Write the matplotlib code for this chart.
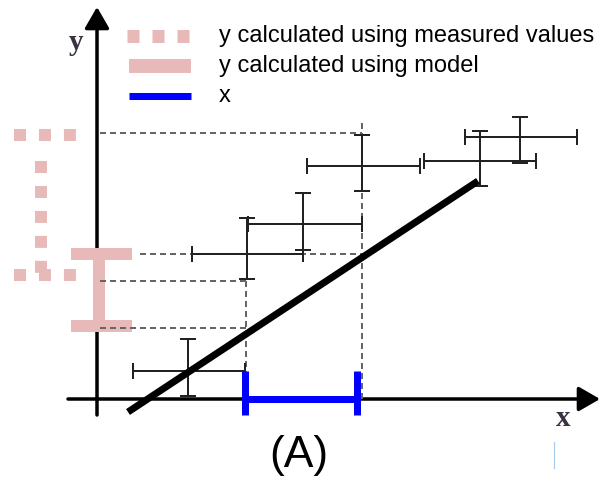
import matplotlib
matplotlib.use("Agg")
from matplotlib import pyplot as plt

# the sketch is drawn in picture units: x to the right, y downwards (0..600, 0..484)
PT = 0.72  # points per pixel at dpi 100

# measured points with their error ranges
pt_x = [188, 247, 303, 362, 480, 520]
pt_y = [371, 254, 224, 166, 161, 137]
x_lo = [133, 192, 248, 307, 424, 465]
x_hi = [245, 303, 362, 420, 536, 577]
y_lo = [339, 218, 193, 135, 131, 117]
y_hi = [396, 279, 250, 191, 186, 163]

# model line
model_x = [128, 478]
model_y = [412, 181]

# projection guides (x0, x1, y0, y1)
guides = [
    (100, 362, 133, 133),
    (140, 362, 254, 254),
    (100, 246, 281, 281),
    (100, 246, 328, 328),
    (246, 246, 281, 399),
    (362, 362, 123, 399),
]

# y ranges on the left
meas_x, meas_top, meas_bot = 41, 135, 275
meas_cap = [14, 76]
model_bar_x, model_top, model_bot = 99, 254, 326
model_cap = [71, 132]

# x interval on the axis
x_int = [245, 357]
x_int_y = 399
x_int_tick = [371, 415]

legend_labels = ["y calculated using measured values",
                 "y calculated using model",
                 "x"]
legend_y = [36, 66, 96]

pink = "#e8b9b9"
gray = "#666666"

fig = plt.figure(figsize=(6, 4.84), dpi=100)
ax = fig.add_axes([0, 0, 1, 1])
ax.set_xlim(0, 600)
ax.set_ylim(484, 0)
ax.axis("off")

# axes with arrows
arrow = dict(arrowstyle="-|>,head_length=1.3,head_width=0.75",
             mutation_scale=10, lw=3.5 * PT, color="black",
             shrinkA=0, shrinkB=0)
ax.annotate("", xy=(600, 399), xytext=(68, 399), arrowprops=arrow, zorder=1)
ax.annotate("", xy=(97, 7), xytext=(97, 415), arrowprops=arrow, zorder=1)
ax.text(76, 42, "y", family="Liberation Serif", fontweight="bold",
        fontsize=21, color="#3a3040", ha="center", va="center")
ax.text(563, 418, "x", family="Liberation Serif", fontweight="bold",
        fontsize=21, color="#3a3040", ha="center", va="center")

# measured y range, dotted I
sq = 12 * PT
ax.plot([meas_x, meas_x], [meas_top + 26, meas_bot - 2], color=pink, lw=sq,
        dashes=(1, 1.08), solid_capstyle="butt", dash_capstyle="butt")
for yy in (meas_top, meas_bot):
    ax.plot(meas_cap, [yy, yy], color=pink, lw=sq, dashes=(1, 1.08),
            dash_capstyle="butt")

# model y range, solid I
ax.plot([model_bar_x, model_bar_x], [model_top, model_bot], color=pink,
        lw=12 * PT, solid_capstyle="butt")
for yy in (model_top, model_bot):
    ax.plot(model_cap, [yy, yy], color=pink, lw=12 * PT, solid_capstyle="butt")

# guides
for gx0, gx1, gy0, gy1 in guides:
    ax.plot([gx0, gx1], [gy0, gy1], color=gray, lw=2 * PT, dashes=(3, 2))

# error bars
xerr = [[c - lo for c, lo in zip(pt_x, x_lo)], [hi - c for c, hi in zip(pt_x, x_hi)]]
yerr = [[c - lo for c, lo in zip(pt_y, y_lo)], [hi - c for c, hi in zip(pt_y, y_hi)]]
ax.errorbar(pt_x, pt_y, xerr=xerr, yerr=yerr, fmt="none", ecolor="#222222",
            elinewidth=2 * PT, capsize=6, capthick=2 * PT)

# model line
ax.plot(model_x, model_y, color="black", lw=7 * PT, solid_capstyle="butt")

# x interval
ax.plot(x_int, [x_int_y, x_int_y], color="blue", lw=7 * PT, solid_capstyle="butt")
for xx in x_int:
    ax.plot([xx, xx], x_int_tick, color="blue", lw=7 * PT, solid_capstyle="butt")

# legend
ax.plot([127, 189], [legend_y[0]] * 2, color=pink, lw=13 * PT,
        dashes=(12 / 13, 1.0), dash_capstyle="butt")
ax.plot([129, 191], [legend_y[1]] * 2, color=pink, lw=14 * PT, solid_capstyle="butt")
ax.plot([129, 191], [legend_y[2]] * 2, color="blue", lw=7 * PT, solid_capstyle="butt")
for lab, yy in zip(legend_labels, legend_y):
    ax.text(219, yy, lab, family="Liberation Sans", fontsize=17,
            ha="left", va="center", color="black")

ax.text(299, 455, "(A)", family="Liberation Sans", fontsize=32,
        ha="center", va="center", color="black")

# faint mark near the bottom right
ax.plot([554, 554], [442, 468], color="#a8ccf0", lw=1.2 * PT)

fig.savefig("out.png", dpi=100)
